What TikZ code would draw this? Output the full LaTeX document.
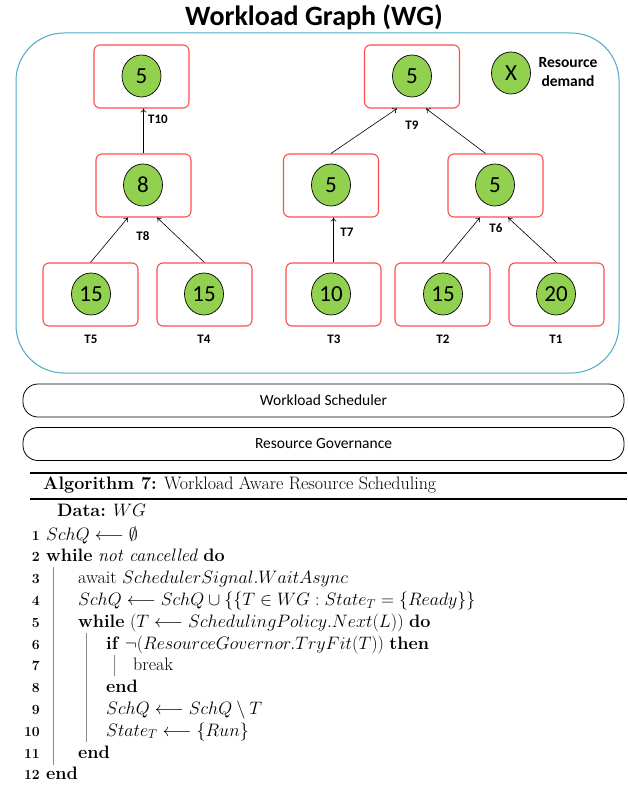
\RequirePackage{fix-cm}
\documentclass[tikz,border=0pt]{standalone}
\usepackage{fontspec}
\newfontfamily\carlito{Carlito}
\usetikzlibrary{arrows.meta,shapes.geometric,calc}

\definecolor{taskred}{HTML}{FF4D4D}
\definecolor{demandgreen}{HTML}{92D050}
\definecolor{groupblue}{HTML}{4BACC6}
\definecolor{vrule}{HTML}{8A8A8A}

\tikzset{
  taskbox/.style={draw=taskred, line width=1.1pt, rounded corners=6pt,
    minimum width=95pt, minimum height=63pt, inner sep=0pt},
  demand/.style={ellipse, draw=black, line width=0.7pt, fill=demandgreen,
    minimum width=39pt, minimum height=42pt, inner sep=0pt,
    font=\carlito\fontsize{23}{23}\selectfont},
  tlabel/.style={inner sep=0pt, font=\carlito\bfseries\fontsize{13}{13}\selectfont},
  dep/.style={draw=black, line width=0.6pt, -{To[length=4pt,width=6pt]}},
  layerbar/.style={draw=black, line width=0.8pt, rounded corners=15pt,
    minimum width=601pt, minimum height=33pt, inner sep=0pt,
    font=\carlito\fontsize{15.5}{16}\selectfont},
  algtext/.style={anchor=base west, inner sep=0pt, font=\fontsize{18}{22}\selectfont},
  lineno/.style={anchor=base east, inner sep=0pt, font=\fontsize{14}{14}\selectfont\bfseries},
  blockrule/.style={draw=vrule, line width=1pt},
}

\begin{document}
\begin{tikzpicture}[x=1pt, y=-1pt]
  \useasboundingbox[fill=white] (0,0) rectangle (627,791);

  % ---------- workload graph ----------
  \node[draw=groupblue, line width=1pt, rounded corners=48pt,
        minimum width=603pt, minimum height=340pt, inner sep=0pt] (wg) at (317.5,203) {};
  \node[anchor=base, inner sep=0pt, font=\carlito\bfseries\fontsize{28}{30}\selectfont]
        (title) at (314,26) {Workload Graph (WG)};

  % task boxes
  \node[taskbox] (t10) at (141.5,76.5) {};
  \node[taskbox] (t9)  at (412,76.5) {};
  \node[taskbox] (t8)  at (143.5,185.5) {};
  \node[taskbox] (t7)  at (331,185.5) {};
  \node[taskbox] (t6)  at (495.5,185.5) {};
  \node[taskbox] (t5)  at (90.5,294.5) {};
  \node[taskbox] (t4)  at (204.5,294.5) {};
  \node[taskbox] (t3)  at (333.5,294.5) {};
  \node[taskbox] (t2)  at (442.5,294.5) {};
  \node[taskbox] (t1)  at (556.5,294.5) {};

  % resource demands
  \node[demand] (d10) at (141.5,76) {5};
  \node[demand] (d9)  at (412,76) {5};
  \node[demand] (d8)  at (143,185) {8};
  \node[demand] (d7)  at (331,185) {5};
  \node[demand] (d6)  at (495,185) {5};
  \node[demand] (d5)  at (91,294) {15};
  \node[demand] (d4)  at (204,294) {15};
  \node[demand] (d3)  at (331,294) {10};
  \node[demand] (d2)  at (443,294) {15};
  \node[demand] (d1)  at (556,294) {20};

  % task labels
  \node[tlabel] (l10) at (158,119) {T10};
  \node[tlabel] (l9)  at (412,125) {T9};
  \node[tlabel] (l8)  at (143,236) {T8};
  \node[tlabel] (l7)  at (347,232) {T7};
  \node[tlabel] (l6)  at (496,228) {T6};
  \node[tlabel] (l5)  at (91,339) {T5};
  \node[tlabel] (l4)  at (204,339) {T4};
  \node[tlabel] (l3)  at (334,339) {T3};
  \node[tlabel] (l2)  at (443,339) {T2};
  \node[tlabel] (l1)  at (556,339) {T1};

  % dependencies
  \draw[dep] (t8.north) -- (t8.north |- t10.south);
  \draw[dep] (t7.north) -- ($(t9.south)+(-15,0)$);
  \draw[dep] ($(t6.north)+(-10,0)$) -- ($(t9.south)+(14,0)$);
  \draw[dep] (t5.north) -- ($(t8.south)+(-15.5,0)$);
  \draw[dep] (t4.north) -- ($(t8.south)+(13.5,0)$);
  \draw[dep] (t3.north) -- (t3.north |- t7.south);
  \draw[dep] (t2.north) -- ($(t6.south)+(-15.5,0)$);
  \draw[dep] (t1.north) -- ($(t6.south)+(12.5,0)$);

  % legend
  \node[demand] (legendx) at (511,73) {X};
  \node[align=center, inner sep=0pt, font=\carlito\bfseries\fontsize{15.5}{19}\selectfont]
        (legendtxt) at (568,72) {Resource\\demand};

  % ---------- layers ----------
  \node[layerbar] (sched) at (323.5,400.5) {Workload Scheduler};
  \node[layerbar] (gov)   at (323.5,444)   {Resource Governance};

  % ---------- algorithm ----------
  \coordinate (rl1) at (30,473);  \coordinate (rr1) at (627,473);
  \coordinate (rl2) at (30,499);  \coordinate (rr2) at (627,499);
  \draw[line width=1.8pt] (rl1) -- (rr1);
  \draw[line width=1.2pt] (rl2) -- (rr2);

  \node[algtext] (cap) at (43,489) {\textbf{Algorithm 7:} Workload Aware Resource Scheduling};
  \node[algtext] (data) at (57,516) {\textbf{Data:} $WG$};

  \node[lineno] (n1)  at (40,540)   {1};
  \node[lineno] (n2)  at (40,561.8) {2};
  \node[lineno] (n3)  at (40,583.6) {3};
  \node[lineno] (n4)  at (40,605.4) {4};
  \node[lineno] (n5)  at (40,627.2) {5};
  \node[lineno] (n6)  at (40,649)   {6};
  \node[lineno] (n7)  at (40,670.8) {7};
  \node[lineno] (n8)  at (40,692.6) {8};
  \node[lineno] (n9)  at (40,714.4) {9};
  \node[lineno] (n10) at (40,736.2) {10};
  \node[lineno] (n11) at (40,758)   {11};
  \node[lineno] (n12) at (40,779.8) {12};

  \node[algtext] (a1)  at (46,540)   {$SchQ \longleftarrow \emptyset$};
  \node[algtext] (a2)  at (46,561.8) {\textbf{while} \emph{not cancelled} \textbf{do}};
  \node[algtext] (a3)  at (78,583.6) {await $SchedulerSignal.WaitAsync$};
  \node[algtext] (a4)  at (78,605.4) {$SchQ \longleftarrow SchQ \cup \{\{T \in WG : State_T = \{Ready\}\}$};
  \node[algtext] (a5)  at (78,627.2) {\textbf{while} $(T \longleftarrow SchedulingPolicy.Next(L))$ \textbf{do}};
  \node[algtext] (a6)  at (106,649)  {\textbf{if} $\neg(ResourceGovernor.TryFit(T))$ \textbf{then}};
  \node[algtext] (a7)  at (133,670.8) {break};
  \node[algtext] (a8)  at (106,692.6) {\textbf{end}};
  \node[algtext] (a9)  at (106,714.4) {$SchQ \longleftarrow SchQ \setminus T$};
  \node[algtext] (a10) at (106,736.2) {$State_T \longleftarrow \{Run\}$};
  \node[algtext] (a11) at (78,758)   {\textbf{end}};
  \node[algtext] (a12) at (46,779.8) {\textbf{end}};

  % block rules
  \draw[blockrule] (53,567) -- (53,765);
  \draw[blockrule] (86,633) -- (86,742);
  \draw[blockrule] (114,655) -- (114,676);
\end{tikzpicture}
\end{document}
